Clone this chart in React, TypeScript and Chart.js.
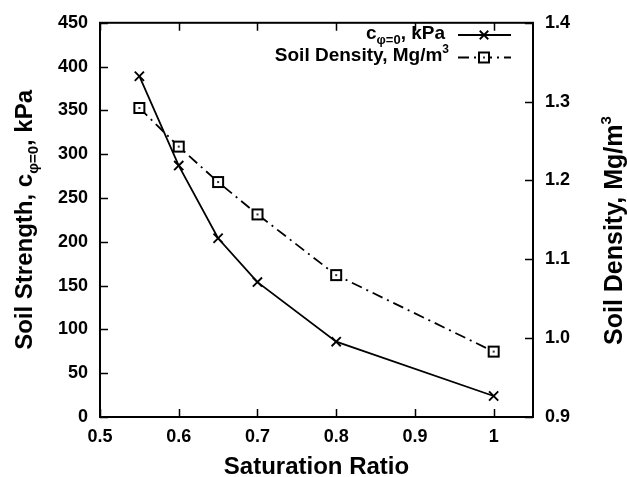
import React, { useEffect, useRef } from 'react';
import { Chart, registerables } from 'chart.js';

Chart.register(...registerables);

// ---- data ----
const saturationRatio = [0.55, 0.6, 0.65, 0.7, 0.8, 1.0];
const soilStrength = [389, 287, 204, 154, 86, 24];
const soilDensity = [1.292, 1.243, 1.198, 1.157, 1.08, 0.983];

const xTicks = [0.5, 0.6, 0.7, 0.8, 0.9, 1.0];
const xTickLabels = ['0.5', '0.6', '0.7', '0.8', '0.9', '1'];
const yTicks = [0, 50, 100, 150, 200, 250, 300, 350, 400, 450];
const yTickLabels = ['0', '50', '100', '150', '200', '250', '300', '350', '400', '450'];
const y1Ticks = [0.9, 1.0, 1.1, 1.2, 1.3, 1.4];
const y1TickLabels = ['0.9', '1.0', '1.1', '1.2', '1.3', '1.4'];

const FONT = "'Liberation Sans', Arial, Helvetica, sans-serif";
const DASH = [11, 5, 2, 5];
const LW = 1.8;

type Part = { t: string; size: number; dy: number; weight?: string };

function richWidth(ctx: CanvasRenderingContext2D, parts: Part[]) {
  let w = 0;
  for (const p of parts) {
    ctx.font = `${p.weight || 'bold'} ${p.size}px ${FONT}`;
    w += ctx.measureText(p.t).width;
  }
  return w;
}

function drawRich(ctx: CanvasRenderingContext2D, parts: Part[], x: number, y: number) {
  let cx = x;
  ctx.textAlign = 'left';
  ctx.textBaseline = 'alphabetic';
  for (const p of parts) {
    ctx.font = `${p.weight || 'bold'} ${p.size}px ${FONT}`;
    ctx.fillText(p.t, cx, y + p.dy);
    cx += ctx.measureText(p.t).width;
  }
}

function makeSquare(): HTMLCanvasElement {
  const c = document.createElement('canvas');
  c.width = 14;
  c.height = 14;
  const g = c.getContext('2d')!;
  g.fillStyle = '#fff';
  g.fillRect(1, 1, 12, 12);
  g.strokeStyle = '#000';
  g.lineWidth = 2;
  g.strokeRect(2, 2, 10, 10);
  g.fillStyle = '#000';
  g.fillRect(6.1, 6.1, 1.8, 1.8);
  return c;
}

export default function App() {
  const ref = useRef<HTMLCanvasElement | null>(null);

  useEffect(() => {
    document.body.style.margin = '0';
    const canvas = ref.current!;
    const square = makeSquare();

    const decor = {
      id: 'decor',
      afterDraw(chart: any) {
        const ctx: CanvasRenderingContext2D = chart.ctx;
        const a = chart.chartArea;
        const xs = chart.scales.x;
        const ys = chart.scales.y;
        const y1s = chart.scales.y1;
        ctx.save();
        ctx.strokeStyle = '#000';
        ctx.fillStyle = '#000';
        // tick marks
        ctx.lineWidth = 1.5;
        ctx.beginPath();
        for (const v of xTicks) {
          const px = Math.round(xs.getPixelForValue(v)) + 0.5;
          ctx.moveTo(px, a.bottom);
          ctx.lineTo(px, a.bottom - 8);
          ctx.moveTo(px, a.top);
          ctx.lineTo(px, a.top + 8);
        }
        for (const v of yTicks) {
          const py = Math.round(ys.getPixelForValue(v)) + 0.5;
          ctx.moveTo(a.left, py);
          ctx.lineTo(a.left + 8, py);
        }
        for (const v of y1Ticks) {
          const py = Math.round(y1s.getPixelForValue(v)) + 0.5;
          ctx.moveTo(a.right, py);
          ctx.lineTo(a.right - 8, py);
        }
        ctx.stroke();
        // frame
        ctx.lineWidth = 2;
        ctx.strokeRect(a.left, a.top, a.right - a.left, a.bottom - a.top);

        // x title
        ctx.font = `bold 24px ${FONT}`;
        ctx.textAlign = 'center';
        ctx.textBaseline = 'alphabetic';
        ctx.fillText('Saturation Ratio', (a.left + a.right) / 2, 474);

        // left title
        const leftParts: Part[] = [
          { t: 'Soil Strength, c', size: 24, dy: 0 },
          { t: 'φ=0', size: 15, dy: 6 },
          { t: ', kPa', size: 24, dy: 0 },
        ];
        const lw = richWidth(ctx, leftParts);
        ctx.save();
        ctx.translate(23, (a.top + a.bottom) / 2);
        ctx.rotate(-Math.PI / 2);
        drawRich(ctx, leftParts, -lw / 2, 9);
        ctx.restore();

        // right title
        const rightParts: Part[] = [
          { t: 'Soil Density, Mg/m', size: 25, dy: 0 },
          { t: '3', size: 15, dy: -11 },
        ];
        ctx.save();
        ctx.translate(613, 345);
        ctx.rotate(-Math.PI / 2);
        drawRich(ctx, rightParts, 0, 9);
        ctx.restore();

        // legend
        const row1: Part[] = [
          { t: 'c', size: 19, dy: 0 },
          { t: 'φ=0', size: 13, dy: 5 },
          { t: ', kPa', size: 19, dy: 0 },
        ];
        const row2: Part[] = [
          { t: 'Soil Density, Mg/m', size: 19, dy: 0 },
          { t: '3', size: 12, dy: -8 },
        ];
        const r1w = richWidth(ctx, row1);
        drawRich(ctx, row1, 445 - r1w, 39);
        const r2w = richWidth(ctx, row2);
        drawRich(ctx, row2, 449 - r2w, 61);

        // legend samples
        ctx.lineWidth = LW;
        ctx.setLineDash([]);
        ctx.beginPath();
        ctx.moveTo(458, 35);
        ctx.lineTo(511, 35);
        ctx.stroke();
        // cross marker
        const r = 6 * Math.SQRT1_2;
        ctx.beginPath();
        ctx.moveTo(484 - r, 35 - r);
        ctx.lineTo(484 + r, 35 + r);
        ctx.moveTo(484 - r, 35 + r);
        ctx.lineTo(484 + r, 35 - r);
        ctx.stroke();

        ctx.setLineDash(DASH);
        ctx.beginPath();
        ctx.moveTo(458, 57.5);
        ctx.lineTo(511, 57.5);
        ctx.stroke();
        ctx.setLineDash([]);
        ctx.drawImage(square, 484 - 7, 57.5 - 7);
        ctx.restore();
      },
    };

    const tickFont = { family: FONT, size: 18, weight: 'bold' as const };

    const chart = new Chart(canvas, {
      type: 'line',
      data: {
        datasets: [
          {
            label: 'c φ=0, kPa',
            data: saturationRatio.map((x, i) => ({ x, y: soilStrength[i] })),
            yAxisID: 'y',
            borderColor: '#000',
            borderWidth: LW,
            backgroundColor: '#000',
            pointStyle: 'crossRot',
            pointRadius: 6.5,
            pointBorderWidth: 1.9,
            pointBorderColor: '#000',
            fill: false,
            tension: 0,
          },
          {
            label: 'Soil Density, Mg/m3',
            data: saturationRatio.map((x, i) => ({ x, y: soilDensity[i] })),
            yAxisID: 'y1',
            borderColor: '#000',
            borderWidth: LW,
            borderDash: DASH,
            pointStyle: square as any,
            pointRadius: 5,
            fill: false,
            tension: 0,
          },
        ],
      },
      options: {
        responsive: false,
        animation: false,
        layout: { padding: { top: 17, left: 0, right: 0, bottom: 0 } },
        plugins: {
          legend: { display: false },
          tooltip: { enabled: false },
        },
        scales: {
          x: {
            type: 'linear',
            position: 'bottom',
            min: 0.5,
            max: 1.05,
            grid: { display: false, drawTicks: false },
            border: { display: false },
            afterBuildTicks: (s: any) => {
              s.ticks = xTicks.map((v) => ({ value: v }));
            },
            afterFit: (s: any) => {
              s.height = 60;
            },
            ticks: {
              color: '#000',
              font: tickFont,
              padding: 9,
              maxRotation: 0,
              autoSkip: false,
              callback: (_v: any, i: number) => xTickLabels[i],
            },
          },
          y: {
            type: 'linear',
            position: 'left',
            min: 0,
            max: 450,
            grid: { display: false, drawTicks: false },
            border: { display: false },
            afterBuildTicks: (s: any) => {
              s.ticks = yTicks.map((v) => ({ value: v }));
            },
            afterFit: (s: any) => {
              s.width = 100;
            },
            ticks: {
              color: '#000',
              font: tickFont,
              padding: 12,
              autoSkip: false,
              callback: (_v: any, i: number) => yTickLabels[i],
            },
          },
          y1: {
            type: 'linear',
            position: 'right',
            min: 0.9,
            max: 1.4,
            grid: { display: false, drawTicks: false },
            border: { display: false },
            afterBuildTicks: (s: any) => {
              s.ticks = y1Ticks.map((v) => ({ value: v }));
            },
            afterFit: (s: any) => {
              s.width = 94;
            },
            ticks: {
              color: '#000',
              font: tickFont,
              padding: 12,
              autoSkip: false,
              callback: (_v: any, i: number) => y1TickLabels[i],
            },
          },
        },
      },
      plugins: [decor],
    });

    return () => chart.destroy();
  }, []);

  return (
    <div style={{ position: 'fixed', left: 0, top: 0, width: 627, height: 477, background: '#fff' }}>
      <canvas ref={ref} width={627} height={477} style={{ display: 'block' }} />
    </div>
  );
}
